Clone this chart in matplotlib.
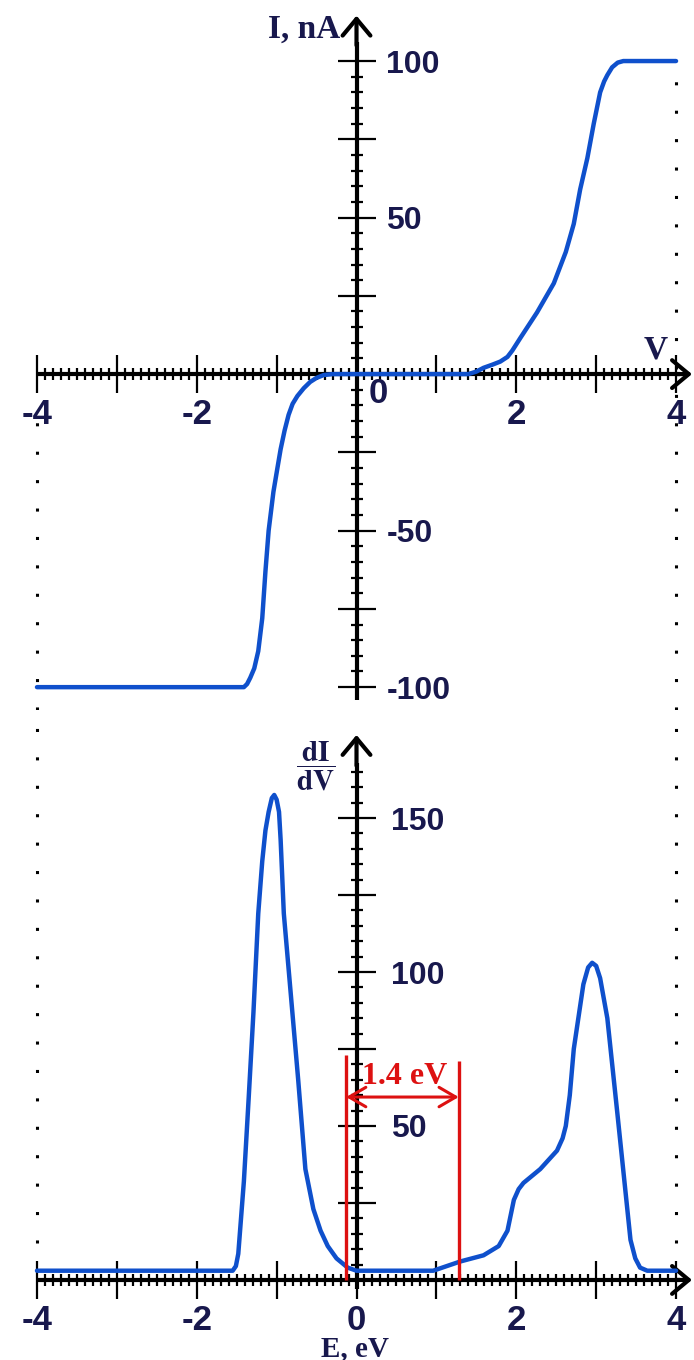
import numpy as np
import matplotlib
matplotlib.use("Agg")
import matplotlib.pyplot as plt
from matplotlib.ticker import FixedLocator

plt.rcParams["font.family"] = ["Liberation Sans", "DejaVu Sans"]
plt.rcParams["mathtext.fontset"] = "stix"

# top panel: I-V curve
iv_v = [-4.0, -1.41, -1.37, -1.33, -1.28, -1.23, -1.18, -1.14, -1.10, -1.04,
        -0.99, -0.95, -0.90, -0.85, -0.80, -0.74, -0.66, -0.58, -0.50, -0.41,
        -0.30, 1.40, 1.50, 1.59, 1.70, 1.80, 1.89, 1.95, 2.05, 2.26, 2.47,
        2.62, 2.72, 2.80, 2.89, 2.97, 3.05, 3.10, 3.14, 3.20, 3.27, 3.34, 4.0]
iv_i = [-100, -100, -99, -97, -94, -88.5, -78, -63, -50, -37.6,
        -30, -24, -18, -13, -9.5, -7, -4.5, -2.5, -1.2, -0.3,
        0, 0, 0.8, 2.0, 3.0, 4.0, 5.5, 7.5, 11.5, 19.7, 29,
        39, 48, 59, 69, 80, 90, 93.5, 95.5, 98, 99.5, 100, 100]

# bottom panel: dI/dV
didv_e = [-4.0, -1.55, -1.51, -1.48, -1.41, -1.35, -1.29, -1.23, -1.18, -1.14,
          -1.10, -1.06, -1.03, -1.00, -0.97, -0.95, -0.91, -0.83, -0.73, -0.64,
          -0.54, -0.45, -0.36, -0.25, -0.11, 0.0, 0.96, 1.30, 1.59, 1.78,
          1.89, 1.93, 1.97, 2.03, 2.09, 2.30, 2.51, 2.58, 2.62, 2.67, 2.72,
          2.84, 2.90, 2.95, 3.00, 3.05, 3.14, 3.27, 3.43, 3.49, 3.55, 3.64, 4.0]
didv_val = [3, 3, 4.5, 8.5, 32, 59, 87, 119, 136, 146,
            152, 156.5, 157.5, 156, 152, 143, 119, 95, 65, 36,
            23, 16, 11, 7, 4, 3, 3, 6, 8, 11,
            16, 21, 26, 29.5, 31.5, 36, 42, 46, 50, 60, 75,
            96, 101.5, 103, 102, 98, 85, 53, 13, 7, 4, 3, 3]

x_ticks = [-4, -3, -2, -1, 0, 1, 2, 3, 4]
x_labels_top = ["-4", "", "-2", "", "", "", "2", "", "4"]
x_labels_bottom = ["-4", "", "-2", "", "0", "", "2", "", "4"]
iv_yticks = [-100, -75, -50, -25, 0, 25, 50, 75, 100]
iv_ylabels = ["-100", "", "-50", "", "", "", "50", "", "100"]
didv_yticks = [0, 25, 50, 75, 100, 125, 150]
didv_ylabels = ["", "", "50", "", "100", "", "150"]

gap_edges = [-0.13, 1.28]
gap_tops = [73, 71]
gap_text = "1.4 eV"

BLUE = "#0f50cc"
NAVY = "#18184d"
RED = "#dd1111"

W, H = 694, 1360
split = 710
fig = plt.figure(figsize=(W / 100, H / 100), dpi=100)
ax1 = fig.add_axes([0, 1 - split / H, 1, split / H])
ax2 = fig.add_axes([0, 0, 1, 1 - split / H])


def setup(ax, ylim, yticks, ylabels, xlabels, ybounds, ytip, ypad, minor_top):
    ax.set_xlim(-4.463, 4.225)
    ax.set_ylim(*ylim)
    ax.patch.set_visible(False)
    for s in ("left", "top"):
        ax.spines[s].set_visible(False)
    ax.spines["bottom"].set_position(("data", 0))
    ax.spines["right"].set_position(("data", 0))
    ax.spines["bottom"].set_bounds(-4, 4.05)
    ax.spines["right"].set_bounds(*ybounds)
    for s in ("bottom", "right"):
        ax.spines[s].set_linewidth(3)
        ax.spines[s].set_capstyle("butt")
    ax.xaxis.set_ticks_position("bottom")
    ax.yaxis.set_ticks_position("right")
    ax.set_xticks(x_ticks, xlabels)
    ax.xaxis.set_minor_locator(FixedLocator(np.arange(-4, 4.01, 0.1)))
    ax.set_yticks(yticks, ylabels)
    ax.yaxis.set_minor_locator(FixedLocator(np.arange(yticks[0], minor_top + 0.1, 5)))
    ax.tick_params(which="major", direction="inout", length=28, width=1.6, color="black")
    ax.tick_params(which="minor", direction="inout", length=8, width=1.6, color="black")
    ax.tick_params(axis="x", which="major", pad=3, labelsize=25, labelcolor=NAVY)
    ax.tick_params(axis="y", which="major", pad=ypad, labelsize=23, labelcolor=NAVY)
    for lab in ax.get_xticklabels() + ax.get_yticklabels():
        lab.set_fontweight("bold")
    arrow = dict(arrowstyle="->,head_length=0.6,head_width=0.5", lw=3, color="black",
                 mutation_scale=20, shrinkA=0, shrinkB=0)
    ax.annotate("", xy=(4.2, 0), xytext=(4.0, 0), arrowprops=arrow, annotation_clip=False)
    ax.annotate("", xy=(0, ytip), xytext=(0, ybounds[1] - 1), arrowprops=arrow,
                annotation_clip=False)


setup(ax1, (-107.3, 119.5), iv_yticks, iv_ylabels, x_labels_top, (-104, 106), 114.5, 7.5, 100)
setup(ax2, (-26.0, 185.1), didv_yticks, didv_ylabels, x_labels_bottom, (-3, 168), 177, 10.5, 165)

dots = (0, (1, 8.3))
ax1.vlines([-4], -107.3, -12, colors="black", linestyles=[dots], lw=2.2)
ax1.vlines([4], -107.3, 100, colors="black", linestyles=[dots], lw=2.2)
ax2.vlines([-4, 4], 12, 185.1, colors="black", linestyles=[dots], lw=2.2)

ax1.plot(iv_v, iv_i, color=BLUE, lw=3.2, zorder=3, solid_joinstyle="round",
         solid_capstyle="round")
ax2.plot(didv_e, didv_val, color=BLUE, lw=3.2, zorder=3, solid_joinstyle="round",
         solid_capstyle="round")

# top panel labels
ax1.annotate("0", xy=(0, 0), xytext=(16, -14), textcoords="offset points",
             ha="center", va="center", fontsize=25, fontweight="bold", color=NAVY)
ax1.text(-0.2, 110, "I, nA", ha="right", va="center", fontsize=24, fontweight="bold",
         family="Liberation Serif", color=NAVY)
ax1.text(3.74, 7.7, "V", ha="center", va="center", fontsize=24, fontweight="bold",
         family="Liberation Serif", color=NAVY)

# bottom panel labels
ax2.text(-0.27, 167, r"$\dfrac{\mathbf{dI}}{\mathbf{dV}}$", ha="right", va="center",
         fontsize=21, color=NAVY)
ax2.text(-0.02, -22.3, "E, eV", ha="center", va="center", fontsize=21, fontweight="bold",
         family="Liberation Serif", color=NAVY)

# band gap marker
ax2.vlines(gap_edges, 0, gap_tops, colors=RED, lw=2.4, zorder=4)
ax2.annotate("", xy=(gap_edges[1], 59.4), xytext=(gap_edges[0], 59.4),
             arrowprops=dict(arrowstyle="<->,head_length=0.6,head_width=0.35", lw=2.2,
                             color=RED, mutation_scale=20, shrinkA=0, shrinkB=0), zorder=4)
ax2.text(sum(gap_edges) / 2 + 0.03, 66.2, gap_text, ha="center", va="center", fontsize=23,
         fontweight="bold", family="Liberation Serif", color=RED, zorder=4)

fig.savefig("out.png", dpi=100)
